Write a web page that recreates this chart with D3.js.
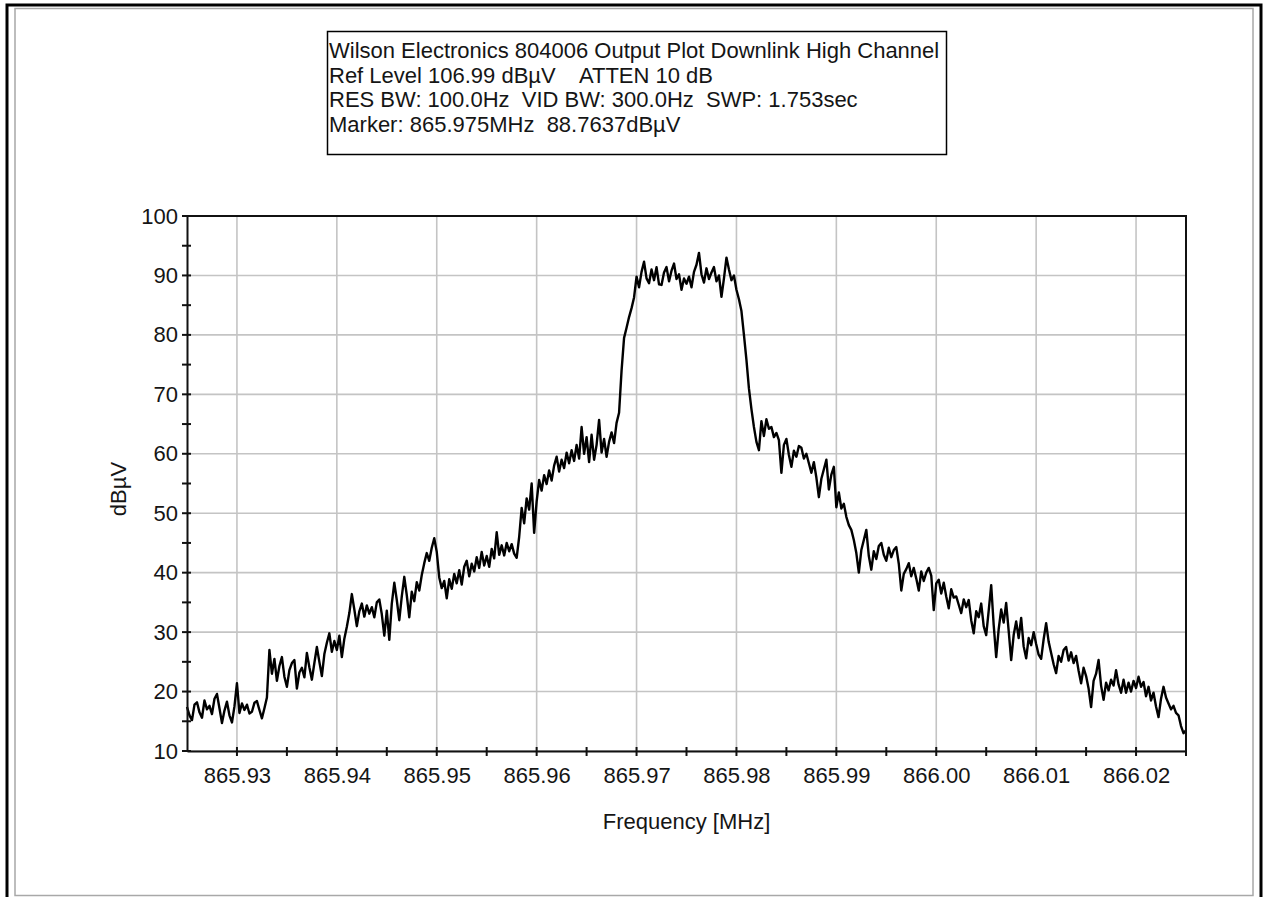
<!DOCTYPE html>
<html>
<head>
<meta charset="utf-8">
<script src="https://cdn.jsdelivr.net/npm/d3@7"></script>
<style>
    html, body { margin: 0; padding: 0; background: #fff; }
    svg { display: block; }
    text { font-family: Arial, "Liberation Sans", sans-serif; fill: #151515; }
</style>
</head>
<body>
<div id="chart"></div>
<script>
// sweep settings (MHz)
let freqStart = 865.925;
let freqStop = 866.025;
let sweepStep = 0.00025;

// header box text
let headerLines = [
    'Wilson Electronics 804006 Output Plot Downlink High Channel',
    'Ref Level 106.99 dB\u00b5V    ATTEN 10 dB',
    'RES BW: 100.0Hz  VID BW: 300.0Hz  SWP: 1.753sec',
    'Marker: 865.975MHz  88.7637dB\u00b5V'
];

// axis ticks
let xTickValues = [865.93, 865.94, 865.95, 865.96, 865.97, 865.98, 865.99, 866.00, 866.01, 866.02];
let xMinorValues = [865.935, 865.945, 865.955, 865.965, 865.975, 865.985, 865.995, 866.005, 866.015, 866.025];
let yTickValues = [10, 20, 30, 40, 50, 60, 70, 80, 90, 100];
let yMinorValues = [15, 25, 35, 45, 55, 65, 75, 85, 95];

// trace levels in dBµV, one per sweep point
let lowSkirt = [
    17.4, 16.0, 15.2, 17.8, 18.2, 16.5, 15.6, 18.5, 17.0, 17.6,
    16.2, 18.8, 19.6, 17.2, 14.7, 16.8, 18.3, 16.0, 14.8, 17.5,
    21.4, 16.4, 18.0, 16.9, 17.8, 16.3, 16.6, 18.1, 18.4, 16.9,
    15.5, 17.2, 19.0, 27.0, 23.0, 25.5, 21.8, 24.3, 25.8, 22.5,
    20.8, 23.6, 24.8, 25.3, 20.5, 23.2, 24.0, 22.4, 26.5, 24.1,
    22.0, 24.8, 27.5, 25.0, 22.6, 26.3, 28.2, 29.8, 26.7, 28.5,
    27.0
];
let leftShoulder = [
    29.4, 25.8, 28.9, 30.9, 33.2, 36.4, 33.8, 31.0, 33.5, 34.8,
    32.6, 34.5, 33.1, 34.2, 32.5, 35.0, 35.5, 33.0, 29.4, 33.6,
    28.7, 34.8, 38.3, 35.4, 32.0, 36.0, 39.3, 36.2, 32.5, 36.8,
    35.2, 38.4, 37.0, 39.6, 41.6, 43.3, 42.0, 44.2, 45.8, 43.5,
    39.2, 37.4, 38.6, 35.7, 38.9, 37.3, 39.8, 38.2, 40.4, 38.0,
    41.0, 42.0, 39.4, 41.5, 40.2, 42.6, 40.8, 43.5, 41.2, 42.8,
    41.0, 44.0, 42.4, 46.8, 43.0, 44.6, 42.9, 45.0, 43.6, 44.8,
    43.2, 42.5, 46.0, 50.9, 48.3, 52.5, 50.6, 55.0, 46.7, 52.0,
    55.6, 53.8, 56.4, 54.9, 57.2, 55.5, 58.0, 59.5, 57.0, 59.0,
    57.6, 60.2, 58.4, 60.6, 58.8, 61.5, 59.2, 64.5, 60.0, 62.8,
    58.6, 63.2, 59.0, 61.5, 65.7, 60.2, 62.5, 59.5, 62.0, 63.6,
    61.8, 65.2, 66.9
];
let channel = [
    74.0, 79.5, 81.2, 83.0, 84.5, 86.3, 89.8,
    88.0, 90.6, 92.3, 89.5, 88.7, 91.0, 89.2, 91.4, 88.5, 88.4,
    90.5, 91.4, 89.0, 90.8, 92.0, 89.4, 90.2, 87.6, 89.5, 88.6,
    89.8, 88.0, 90.6, 91.8, 93.8, 90.2, 88.8, 91.2, 89.4, 90.5,
    91.4, 89.0, 90.0, 86.4, 89.5, 93.0, 91.0, 89.2, 90.0, 87.6
];
let rightShoulder = [
    86.0, 84.0, 80.0, 75.8, 71.0, 67.5, 64.5, 62.0, 60.6, 65.5,
    63.0, 65.8, 64.2, 64.5, 62.8, 63.5, 62.3, 56.8, 61.5, 62.5,
    59.8, 57.8, 60.5, 59.5, 61.3, 61.0, 59.2, 60.0, 58.4, 56.8,
    58.6, 56.0, 52.7, 55.8, 57.4, 59.0, 54.0, 56.5, 57.8, 51.0,
    53.5, 50.8, 51.6, 49.4, 48.0, 47.2, 45.5, 43.3, 40.0, 43.8,
    45.5, 47.2, 42.8, 40.5, 43.6, 42.3, 44.5, 45.0, 43.0, 42.0,
    44.2, 42.6, 43.8, 44.3, 41.5, 37.0, 39.8, 40.6, 41.6, 39.4,
    40.8, 39.0, 37.0, 40.2, 38.6, 40.0, 40.8, 39.5, 33.7, 38.2
];
let highSkirt = [
    38.8, 36.5, 38.3, 36.0, 34.0, 37.2, 35.8, 36.0, 34.6, 33.2,
    35.5, 34.2, 35.4, 32.0, 29.8, 33.5, 32.5, 34.8, 31.0, 29.5,
    33.6, 37.9, 31.2, 25.8, 30.5, 33.8, 31.6, 34.9, 30.2, 25.3,
    29.5, 31.8, 29.0, 32.4, 27.6, 25.6, 29.0, 27.8, 30.0, 28.0,
    26.2, 25.5, 28.8, 31.5, 28.4, 26.5, 24.6, 23.1, 26.0, 25.0,
    27.0, 27.5, 25.2, 26.6, 24.8, 26.0, 23.5, 21.4, 24.0, 22.6,
    20.5, 17.4, 21.8, 23.0, 25.3, 21.0, 18.6, 21.5, 20.2, 22.0,
    21.0, 23.6, 21.2, 19.8, 22.0, 19.8, 21.5, 20.0, 21.8, 20.6,
    22.5, 20.8, 21.6, 19.2, 20.8, 18.5, 19.8, 17.5, 15.7, 18.8,
    20.8, 19.0, 18.0, 17.0, 17.6, 16.4, 16.0, 14.2, 13.0, 13.5
];

let width = 1267;
let height = 897;
// plot area
let pL = 187, pT = 216, pR = 1186, pB = 751;

let svg = d3.select('#chart').append('svg')
    .attr('width', width)
    .attr('height', height);

svg.append('rect').attr('width', width).attr('height', height).attr('fill', '#fff');

//outer window frame (black, open at the bottom)
svg.append('path')
    .attr('d', 'M7,' + height + 'V5H1261V' + height)
    .attr('fill', 'none')
    .attr('stroke', '#000')
    .attr('stroke-width', 3);
//inner bevel
svg.append('rect')
    .attr('x', 15).attr('y', 8.5)
    .attr('width', 1238).attr('height', 887)
    .attr('fill', 'none')
    .attr('stroke', '#a8a8a8')
    .attr('stroke-width', 1.5);

//header box
let header = svg.append('g');
header.append('rect')
    .attr('x', 327.5).attr('y', 31.5)
    .attr('width', 619).attr('height', 123)
    .attr('fill', '#fff')
    .attr('stroke', '#000')
    .attr('stroke-width', 1.5);
header.selectAll('text')
    .data(headerLines)
    .enter()
    .append('text')
    .attr('x', 329)
    .attr('y', function (d, i) {
        return 58 + i * 24.6
    })
    .style('font-size', '22px')
    .style('white-space', 'pre')
    .text(function (d) {
        return d
    });

//scales
let x = d3.scaleLinear().domain([freqStart, freqStop]).range([pL, pR]);
let y = d3.scaleLinear().domain([10, 100]).range([pB, pT]);

//gridlines
let grid = svg.append('g');
grid.selectAll('line.gx')
    .data(xTickValues)
    .enter()
    .append('line')
    .attr('x1', function (d) { return x(d) })
    .attr('x2', function (d) { return x(d) })
    .attr('y1', pT)
    .attr('y2', pB)
    .attr('stroke', '#c4c4c4')
    .attr('stroke-width', 1.6);
grid.selectAll('line.gy')
    .data(yTickValues)
    .enter()
    .append('line')
    .attr('x1', pL)
    .attr('x2', pR)
    .attr('y1', function (d) { return y(d) })
    .attr('y2', function (d) { return y(d) })
    .attr('stroke', '#c4c4c4')
    .attr('stroke-width', 1.6);

//trace
let levels = lowSkirt.concat(leftShoulder, channel, rightShoulder, highSkirt);
let trace = levels.map(function (v, i) {
    return [freqStart + i * sweepStep, v]
});
let line = d3.line()
    .x(function (d) { return x(d[0]) })
    .y(function (d) { return y(d[1]) });
svg.append('path')
    .datum(trace)
    .attr('d', line)
    .attr('fill', 'none')
    .attr('stroke', '#000')
    .attr('stroke-width', 2.4)
    .attr('stroke-linejoin', 'round');

//frame top and right
svg.append('path')
    .attr('d', 'M' + pL + ',' + pT + 'H' + pR + 'V' + pB)
    .attr('fill', 'none')
    .attr('stroke', '#111')
    .attr('stroke-width', 2);

//axes
let xAxis = svg.append('g')
    .attr('transform', 'translate(0,' + pB + ')')
    .call(d3.axisBottom(x)
        .tickValues(xTickValues)
        .tickFormat(d3.format('.2f'))
        .tickSize(0)
        .tickPadding(16));
let yAxis = svg.append('g')
    .attr('transform', 'translate(' + pL + ',0)')
    .call(d3.axisLeft(y)
        .tickValues(yTickValues)
        .tickFormat(d3.format('d'))
        .tickSize(0)
        .tickPadding(9));
[xAxis, yAxis].forEach(function (a) {
    a.select('.domain').attr('stroke', '#111').attr('stroke-width', 2);
    a.selectAll('text')
        .style('font-size', '22px')
        .style('font-family', 'Arial, "Liberation Sans", sans-serif')
        .attr('fill', '#151515');
});

//tick marks crossing the axis lines
svg.append('g').selectAll('line')
    .data(xTickValues.concat(xMinorValues))
    .enter()
    .append('line')
    .attr('x1', function (d) { return x(d) })
    .attr('x2', function (d) { return x(d) })
    .attr('y1', pB - 4)
    .attr('y2', pB + 5)
    .attr('stroke', '#111')
    .attr('stroke-width', 2);
svg.append('g').selectAll('line')
    .data(yTickValues.concat(yMinorValues))
    .enter()
    .append('line')
    .attr('x1', pL - 5)
    .attr('x2', pL + 4)
    .attr('y1', function (d) { return y(d) })
    .attr('y2', function (d) { return y(d) })
    .attr('stroke', '#111')
    .attr('stroke-width', 2);

//axis titles
svg.append('text')
    .attr('x', (pL + pR) / 2)
    .attr('y', 829)
    .attr('text-anchor', 'middle')
    .style('font-size', '22px')
    .text('Frequency [MHz]');
svg.append('text')
    .attr('transform', 'translate(118,489) rotate(-90)')
    .attr('text-anchor', 'middle')
    .attr('dominant-baseline', 'central')
    .style('font-size', '22px')
    .text('dB\u00b5V');
</script>
</body>
</html>
